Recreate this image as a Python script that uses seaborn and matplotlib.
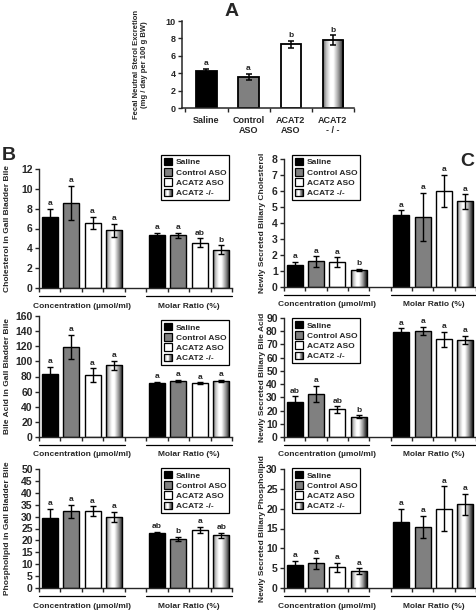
import numpy as np
import pandas as pd
import seaborn as sns
import matplotlib
matplotlib.use('Agg')
import matplotlib.pyplot as plt
from matplotlib.patches import Patch, Rectangle
from matplotlib.legend_handler import HandlerBase

# groups / colours
groups = ['Saline', 'Control ASO', 'ACAT2 ASO', 'ACAT2 -/-']
colors = ['black', '#808080', 'white', '#d0d0d0']
a_ticklabels = ['Saline', 'Control\nASO', 'ACAT2\nASO', 'ACAT2\n- / -']

# panel A: fecal neutral sterol excretion
fecal_mean = [4.2, 3.6, 7.3, 7.8]
fecal_sem = [0.3, 0.35, 0.4, 0.55]
fecal_sig = ['a', 'a', 'b', 'b']

# panel B: gall bladder bile
gb_chol_conc = [7.2, 8.6, 6.6, 5.8]
gb_chol_conc_sem = [0.8, 1.7, 0.6, 0.7]
gb_chol_conc_sig = ['a', 'a', 'a', 'a']
gb_chol_molar = [5.35, 5.3, 4.55, 3.85]
gb_chol_molar_sem = [0.2, 0.25, 0.45, 0.45]
gb_chol_molar_sig = ['a', 'a', 'ab', 'b']

gb_ba_conc = [83, 119, 82, 95]
gb_ba_conc_sem = [10, 16, 9, 6]
gb_ba_conc_sig = ['a', 'a', 'a', 'a']
gb_ba_molar = [72, 74, 71, 74]
gb_ba_molar_sem = [1, 1.5, 1.5, 1.8]
gb_ba_molar_sig = ['a', 'a', 'a', 'a']

gb_pl_conc = [29.4, 32.2, 32.2, 29.9]
gb_pl_conc_sem = [3.8, 2.8, 2.1, 2.0]
gb_pl_conc_sig = ['a', 'a', 'a', 'a']
gb_pl_molar = [23.0, 20.6, 24.3, 22.1]
gb_pl_molar_sem = [0.7, 1.0, 1.4, 1.1]
gb_pl_molar_sig = ['ab', 'b', 'a', 'ab']

# panel C: newly secreted biliary lipids
ns_chol_conc = [1.4, 1.6, 1.55, 1.07]
ns_chol_conc_sem = [0.18, 0.32, 0.3, 0.05]
ns_chol_conc_sig = ['a', 'a', 'a', 'b']
ns_chol_molar = [4.5, 4.4, 6.0, 5.35]
ns_chol_molar_sem = [0.3, 1.5, 1.0, 0.45]
ns_chol_molar_sig = ['a', 'a', 'a', 'a']

ns_ba_conc = [26.8, 32.5, 20.8, 15.3]
ns_ba_conc_sem = [4, 6, 2.5, 1]
ns_ba_conc_sig = ['ab', 'a', 'ab', 'b']
ns_ba_molar = [79.3, 80.2, 73.8, 73.6]
ns_ba_molar_sem = [3, 3.2, 5.5, 3]
ns_ba_molar_sig = ['a', 'a', 'a', 'a']

ns_pl_conc = [5.7, 6.2, 5.2, 4.3]
ns_pl_conc_sem = [1.1, 1.4, 1.1, 0.67]
ns_pl_conc_sig = ['a', 'a', 'a', 'a']
ns_pl_molar = [16.7, 15.4, 20.0, 21.1]
ns_pl_molar_sem = [3.2, 2.8, 5.6, 2.7]
ns_pl_molar_sig = ['a', 'a', 'a', 'a']

# bar slots: 4 bars, gap, 4 bars
positions = [0, 1, 2, 3, 5, 6, 7, 8]

sns.set_style('ticks')
plt.rcParams['font.family'] = ['Liberation Sans', 'DejaVu Sans']
plt.rcParams['font.weight'] = 'bold'
plt.rcParams['axes.labelweight'] = 'bold'

W, H = 477, 612
fig = plt.figure(figsize=(W / 100, H / 100), dpi=100)

# cylinder-like shading for the ACAT2 -/- bars
grad_x = [0, 0.15, 0.35, 0.5, 0.75, 1]
grad_v = [0.4, 0.75, 1.0, 1.0, 0.6, 0.1]


def px_box(x0, y0, x1, y1):
    return [x0 / W, 1 - y1 / H, (x1 - x0) / W, (y1 - y0) / H]


class GradientHandler(HandlerBase):
    def create_artists(self, legend, orig_handle, xdescent, ydescent,
                       width, height, fontsize, trans):
        n = 12
        shades = np.interp(np.linspace(0, 1, n), grad_x, grad_v)
        arts = []
        for i, s in enumerate(shades):
            arts.append(Rectangle((-xdescent + i * width / n, -ydescent),
                                  width / n, height, facecolor=str(s),
                                  edgecolor='none', transform=trans))
        arts.append(Rectangle((-xdescent, -ydescent), width, height,
                              facecolor='none', edgecolor='black', lw=0.9,
                              transform=trans))
        return arts


def shade_bar(ax, patch):
    x0, y0 = patch.get_x(), patch.get_y()
    w, h = patch.get_width(), patch.get_height()
    grad = np.interp(np.linspace(0, 1, 64), grad_x, grad_v)
    im = ax.imshow(grad[None, :], cmap='gray', vmin=0, vmax=1,
                   extent=[x0, x0 + w, y0, y0 + h], aspect='auto',
                   interpolation='bilinear', zorder=patch.get_zorder() - 0.01)
    im.set_clip_path(patch)
    patch.set_facecolor('none')


def add_errors(ax, xs, means, sems, sigs, lw=1.0, cap=2.2):
    ax.errorbar(xs, means, yerr=sems, fmt='none', ecolor='black',
                elinewidth=lw, capsize=cap, capthick=lw, zorder=5)
    for x, m, s, t in zip(xs, means, sems, sigs):
        ax.annotate(t, (x, m + s), xytext=(0, 1.2), textcoords='offset points',
                    ha='center', va='bottom', fontsize=6, fontweight='bold')


def add_legend(ax, x, y):
    handles = [Patch(facecolor=c, edgecolor='black', lw=0.9) for c in colors[:3]]
    grad_handle = Patch(facecolor='white', edgecolor='black')
    handles.append(grad_handle)
    leg = ax.legend(handles, groups, loc='upper left',
                    bbox_to_anchor=(x / W, 1 - y / H),
                    bbox_transform=fig.transFigure,
                    handler_map={grad_handle: GradientHandler()},
                    prop={'weight': 'bold', 'size': 6}, frameon=True,
                    fancybox=False, framealpha=1, edgecolor='black',
                    borderpad=0.35, labelspacing=0.2, handlelength=1.0,
                    handleheight=1.0, handletextpad=0.4, borderaxespad=0)
    leg.get_frame().set_linewidth(0.9)


def draw_panel(box, conc, conc_sem, conc_sig, molar, molar_sem, molar_sig,
               ytop, ystep, ylabel, label_x, legend_xy):
    ax = fig.add_axes(px_box(*box))
    df = pd.DataFrame({'pos': positions, 'value': conc + molar,
                       'group': groups * 2})
    sns.barplot(data=df, x='pos', y='value', hue='group', hue_order=groups,
                palette=colors, native_scale=True, dodge=False, width=0.75,
                errorbar=None, edgecolor='black', linewidth=1.0, legend=False,
                ax=ax)
    for p in list(ax.patches):
        cx = p.get_x() + p.get_width() / 2
        if abs(cx - 3) < 0.1 or abs(cx - 8) < 0.1:
            shade_bar(ax, p)
    add_errors(ax, positions, conc + molar, conc_sem + molar_sem,
               conc_sig + molar_sig)
    ax.set_xlim(-0.5, 8.5)
    ax.set_ylim(0, ytop)
    ax.set_yticks(np.arange(0, ytop + ystep / 2, ystep))
    ax.set_xticks(np.arange(-0.5, 9, 1))
    ax.set_xticklabels([])
    ax.set_xlabel('')
    ax.set_ylabel(ylabel, fontsize=6, fontweight='bold')
    ax.yaxis.set_label_coords(label_x, 0.5)
    sns.despine(ax=ax)
    for s in ['left', 'bottom']:
        ax.spines[s].set_linewidth(1.0)
    ax.tick_params(direction='out', length=3, width=1.0, labelsize=7.5, pad=1.5)
    # group brackets under the x axis
    hpx = box[3] - box[1]
    tr = ax.get_xaxis_transform()
    for (a, b), txt in zip([(-0.5, 3.5), (4.5, 8.5)],
                           ['Concentration (µmol/ml)', 'Molar Ratio (%)']):
        ax.plot([a, b], [-8 / hpx, -8 / hpx], color='black', lw=0.9,
                transform=tr, clip_on=False)
        ax.text((a + b) / 2, -18 / hpx, txt, transform=tr, ha='center',
                va='center', fontsize=6, fontweight='bold')
    add_legend(ax, *legend_xy)
    return ax


# ---- panel A ----
axA = fig.add_axes(px_box(182, 21, 354, 108))
dfA = pd.DataFrame({'group': groups, 'value': fecal_mean})
sns.barplot(data=dfA, x='group', y='value', hue='group', hue_order=groups,
            order=groups, palette=colors, width=0.48, errorbar=None,
            edgecolor='black', linewidth=1.3, legend=False, ax=axA)
for p in list(axA.patches):
    cx = p.get_x() + p.get_width() / 2
    if abs(cx - 3) < 0.1:
        shade_bar(axA, p)
add_errors(axA, range(4), fecal_mean, fecal_sem, fecal_sig, lw=1.1, cap=2.5)
axA.set_xlim(-0.58, 3.5)
axA.set_ylim(0, 10)
axA.set_yticks(np.arange(0, 11, 2))
axA.set_xticks(range(4))
axA.set_xticklabels(a_ticklabels, fontsize=6.5, fontweight='bold',
                    linespacing=1.1)
axA.set_xticks(np.arange(-0.5, 4, 1), minor=True)
axA.tick_params(axis='x', which='major', length=0, pad=6)
axA.tick_params(axis='x', which='minor', direction='out', length=3, width=1.0)
axA.tick_params(axis='y', direction='out', length=3, width=1.0,
                labelsize=6.5, pad=1.5)
axA.set_xlabel('')
axA.set_ylabel('Fecal Neutral Sterol Excretion\n(mg / day per 100 g BW)',
               fontsize=5.5, fontweight='bold', linespacing=1.2)
axA.yaxis.set_label_coords(-0.2, 0.5)
sns.despine(ax=axA)
for s in ['left', 'bottom']:
    axA.spines[s].set_linewidth(1.1)

# ---- panel B ----
draw_panel((39, 169, 232, 288), gb_chol_conc, gb_chol_conc_sem,
           gb_chol_conc_sig, gb_chol_molar, gb_chol_molar_sem,
           gb_chol_molar_sig, 12, 2, 'Cholesterol in Gall Bladder Bile',
           -0.145, (161, 155))
draw_panel((39, 316, 232, 437), gb_ba_conc, gb_ba_conc_sem, gb_ba_conc_sig,
           gb_ba_molar, gb_ba_molar_sem, gb_ba_molar_sig, 160, 20,
           'Bile Acid in Gall Bladder Bile', -0.145, (161, 320))
draw_panel((39, 469, 232, 588), gb_pl_conc, gb_pl_conc_sem, gb_pl_conc_sig,
           gb_pl_molar, gb_pl_molar_sem, gb_pl_molar_sig, 50, 5,
           'Phospholipid in Gall Bladder Bile', -0.145, (161, 468))

# ---- panel C ----
draw_panel((284, 159, 476, 287), ns_chol_conc, ns_chol_conc_sem,
           ns_chol_conc_sig, ns_chol_molar, ns_chol_molar_sem,
           ns_chol_molar_sig, 8, 1, 'Newly Secreted Biliary Cholesterol',
           -0.094, (292, 155))
draw_panel((284, 318, 476, 437), ns_ba_conc, ns_ba_conc_sem, ns_ba_conc_sig,
           ns_ba_molar, ns_ba_molar_sem, ns_ba_molar_sig, 90, 10,
           'Newly Secreted Biliary Bile Acid', -0.094, (292, 318))
draw_panel((284, 469, 476, 588), ns_pl_conc, ns_pl_conc_sem, ns_pl_conc_sig,
           ns_pl_molar, ns_pl_molar_sem, ns_pl_molar_sig, 30, 5,
           'Newly Secreted Biliary Phospholipid', -0.094, (292, 468))

# panel letters
fig.text(232 / W, 1 - 12 / H, 'A', fontsize=14, fontweight='bold',
         ha='center', va='center')
fig.text(9 / W, 1 - 156 / H, 'B', fontsize=14, fontweight='bold',
         ha='center', va='center')
fig.text(467 / W, 1 - 162 / H, 'C', fontsize=14, fontweight='bold',
         ha='center', va='center')

fig.savefig('out.png', dpi=100)
